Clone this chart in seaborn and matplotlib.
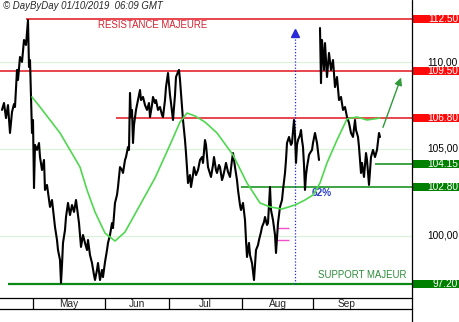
import numpy as np
import pandas as pd
import matplotlib
matplotlib.use("Agg")
import matplotlib.pyplot as plt
import seaborn as sns
from matplotlib.patches import Rectangle
from matplotlib.lines import Line2D
import matplotlib.transforms as mtransforms

# ---------------- data ----------------
bars = [2, 4, 6, 8, 10, 12, 14, 15, 17, 18, 20, 22, 24, 26, 28, 29, 30, 31, 32, 33, 34, 35, 37, 39, 40,
        42, 44, 45, 47, 50, 52, 55, 57, 58, 60, 61, 62, 63, 65, 66, 68, 70, 72, 74, 76, 78, 79, 81, 83,
        85, 87, 88, 90, 92, 94, 95, 97, 98, 100, 102, 103, 105, 107, 108, 110, 112, 113, 115, 117, 118,
        120, 122, 123, 125, 126, 128, 129, 130, 131, 132, 133, 134, 136, 138, 140, 141, 143, 145, 147,
        149, 150, 152, 153, 155, 156, 158, 160, 162, 163, 165, 166, 168, 170, 171, 173, 175, 176, 178,
        179, 180, 181, 183, 185, 186, 188, 190, 191, 193, 194, 196, 198, 200, 202, 203, 205, 206, 208,
        211, 213, 214, 216, 217, 219, 220, 222, 223, 225, 226, 228, 230, 232, 233, 235, 237, 238, 240,
        241, 243, 245, 246, 247, 249, 250, 252, 254, 255, 256, 258, 259, 261, 262, 264, 265, 267, 268,
        270, 271, 273, 275, 276, 278, 280, 282, 283, 285, 286, 287, 289, 291, 292, 294, 295, 296, 297,
        298, 300, 301, 302, 303, 304, 305, 306, 307, 309, 310, 312, 313, 315, 316, 317, 319,
        320, 321, 322, 323, 324, 325, 327, 328, 329, 331, 333, 335, 337, 339, 341, 343, 345, 347, 349,
        351, 353, 355, 356, 358, 359, 361, 362, 364, 366, 367, 369, 371, 373, 375, 377, 379, 380]
prices = [107.25, 107.65, 106.78, 107.53, 105.92, 107.13, 107.59, 107.42, 109.56, 108.98, 110.31, 110.02,
          111.29, 111.00, 112.44, 109.73, 110.13, 108.00, 105.92, 106.67, 102.74, 105.23, 104.94, 105.34,
          104.53, 103.78, 104.36, 102.63, 102.92, 101.65, 102.05, 100.49, 99.74, 99.16, 98.59, 97.26,
          98.30, 99.57, 100.32, 101.07, 101.88, 101.18, 101.76, 101.36, 102.05, 101.18, 100.72, 99.34,
          100.03, 99.57, 99.16, 99.74, 98.87, 98.41, 97.72, 97.43, 98.01, 98.41, 97.43, 98.01, 97.60,
          98.47, 99.16, 99.57, 100.03, 100.72, 100.43, 101.88, 102.34, 102.80, 103.95, 103.78, 103.61,
          104.36, 104.53, 105.11, 104.94, 108.23, 106.84, 107.25, 105.34, 106.38, 107.25, 107.82, 108.40,
          107.82, 108.00, 107.53, 107.25, 107.65, 106.84, 107.53, 108.00, 107.65, 107.82, 107.25, 107.42,
          106.96, 106.84, 107.82, 108.57, 109.38, 108.11, 107.65, 106.67, 108.11, 109.15, 109.44, 109.56,
          108.98, 108.23, 106.67, 105.51, 104.76, 103.03, 103.49, 102.80, 103.49, 103.95, 103.49, 103.78,
          104.36, 104.53, 104.19, 105.51, 105.23, 103.95, 103.38, 104.07, 104.53, 103.78, 103.61, 104.07,
          103.95, 103.20, 103.38, 103.90, 104.19, 103.67, 103.38, 104.36, 104.76, 103.95, 103.20, 102.63,
          101.76, 101.47, 101.88, 100.89, 99.74, 98.76, 99.57, 98.87, 98.41, 97.43, 98.30, 99.16, 99.45,
          99.74, 100.20, 100.49, 100.78, 101.07, 100.61, 100.72, 102.80, 101.47, 100.89, 100.03, 98.99,
          100.72, 101.65, 102.05, 102.63, 103.61, 104.36, 105.34, 105.69, 105.23, 105.34, 106.67, 105.80,
          104.19, 105.23, 105.51, 105.80, 106.09, 105.51, 105.11, 104.07, 102.63, 103.49, 103.95, 104.65,
          104.76, 104.94, 105.34, 105.92, 105.63, 105.34, 104.36,
          111.98, 108.80, 111.29, 110.42, 109.56, 111.11, 109.15, 109.84, 110.54, 109.56, 110.13, 108.57,
          109.15, 107.82, 108.00, 107.25, 107.42, 106.84, 106.50, 105.92, 105.69, 106.67, 106.09, 105.69,
          105.11, 103.61, 104.19, 103.38, 104.76, 104.36, 102.92, 104.53, 104.94, 104.53, 104.94, 105.92,
          105.69]
gap_bar = 320  # price gap (no bar drawn across it)

ma_bars = [32, 40, 50, 60, 70, 80, 87, 95, 105, 115, 125, 140, 155, 170, 180, 187, 195, 205, 217, 233,
           247, 260, 270, 282, 295, 305, 313, 320, 327, 337, 347, 357, 367, 380]
ma_vals = [108.00, 107.42, 106.67, 105.92, 104.94, 103.95, 102.63, 101.36, 100.14, 99.68, 100.20, 101.76,
           103.32, 105.23, 106.55, 107.07, 106.90, 106.55, 105.92, 104.65, 103.03, 101.88, 101.65, 101.53,
           101.76, 102.05, 102.34, 103.03, 104.19, 105.51, 106.73, 106.84, 106.67, 106.78]

levels = [112.50, 109.50, 106.80, 104.15, 102.80, 97.20]
level_labels = ["112.50", "109.50", "106.80", "104.15", "102.80", "97.20"]
level_kind = ["res", "res", "res", "sup", "sup", "sup"]
level_from = [26, 0, 116, 375, 241, 8]

grid_vals = [100, 105, 110]
grid_labels = ["100,00", "105,00", "110,00"]

months = ["May", "Jun", "Jul", "Aug", "Sep"]
month_bounds = [33, 105, 169, 242, 313, 381]

target_bar = 295
target_top = 111.52
fib_marks = [100.43, 99.74]
fib_from, fib_to = 277, 289
proj_from = (382, 106.09)
proj_to = (402, 109.27)

# ---------------- style ----------------
sns.set_style("white")
plt.rcParams["font.family"] = ["Liberation Sans", "DejaVu Sans"]

RED = "#e3121c"
GREEN = "#0a8a14"
MA_GREEN = "#4fd84f"
BLUE = "#2a2ad8"

W, H = 460, 322
fig = plt.figure(figsize=(W / 100, H / 100), dpi=100)
ax_right = 412
ax_bottom = 298
ax = fig.add_axes([0, 1 - ax_bottom / H, ax_right / W, ax_bottom / H])
ppu = 17.32  # pixels per price unit
ax.set_xlim(0, ax_right)
ax.set_ylim(112.5 - (ax_bottom - 19) / ppu, 112.5 + 19 / ppu)
for s in ax.spines.values():
    s.set_visible(False)
ax.set_xticks([])
ax.set_yticks([])

# grid lines
for g in grid_vals:
    ax.axhline(g, color="#d9f2d9", lw=0.9, zorder=0)

# levels
for v, k, x0 in zip(levels, level_kind, level_from):
    c = RED if k == "res" else GREEN
    lw = 1.6 if v == 97.20 else 1.1
    ax.hlines(v, x0, ax_right, color=c, lw=lw, zorder=2)

# price
df = pd.DataFrame({"bar": bars, "price": prices})
df["seg"] = (df["bar"] >= gap_bar).astype(int)
sns.lineplot(data=df, x="bar", y="price", units="seg", estimator=None, color="black",
             lw=1.5, ax=ax, legend=False, zorder=4)

# moving average
ma = pd.DataFrame({"bar": ma_bars, "ma": ma_vals})
sns.lineplot(data=ma, x="bar", y="ma", color=MA_GREEN, lw=1.2, ax=ax, legend=False, zorder=5)
ax.set_xlabel("")
ax.set_ylabel("")

# target vertical dotted line with arrow
ax.vlines(target_bar, 97.2, target_top, color=BLUE, lw=0.9, linestyles=(0, (1, 1.5)), zorder=3)
ax.plot([target_bar], [target_top + 0.2], marker="^", color=BLUE, ms=6, zorder=6)

# fib marks
for v in fib_marks:
    ax.hlines(v, fib_from, fib_to, color="#f050c8", lw=1.0, zorder=3)

ax.text(312, 102.45, "62%", color="#2b3fc4", fontsize=7.2, fontweight="bold", va="center", ha="left")

ax.annotate("", xy=proj_to, xytext=proj_from,
            arrowprops=dict(arrowstyle="-|>", color="#2f9a3a", lw=1.0, mutation_scale=11))

ax.text(98, 112.5 - 6 / ppu, "RESISTANCE MAJEURE", color="#d5222e", fontsize=6.9,
        va="center", ha="left")
ax.text(407, 97.2 + 9 / ppu, "SUPPORT MAJEUR", color="#2e8b3a", fontsize=6.9,
        va="center", ha="right")

# right-hand labels
trans = mtransforms.blended_transform_factory(ax.transAxes, ax.transData)
label_x = 1 + 46 / ax_right
for g, lab in zip(grid_vals, grid_labels):
    ax.text(label_x, g, lab, transform=trans, ha="right", va="center", fontsize=7.3,
            color="black", clip_on=False, zorder=7)
bh = 8 / ppu
for v, lab, k in zip(levels, level_labels, level_kind):
    c = "#ff0a0a" if k == "res" else "#008000"
    ax.add_patch(Rectangle((1.0, v - bh / 2), (W - ax_right) / ax_right, bh, transform=trans,
                           facecolor=c, edgecolor="none", clip_on=False, zorder=8))
    ax.text(label_x, v, lab, transform=trans, ha="right", va="center", fontsize=7.3,
            color="white", clip_on=False, zorder=9)

# date band
ax2 = fig.add_axes([0, 1 - 309 / H, ax_right / W, 11 / H])
ax2.set_xlim(0, ax_right)
ax2.set_ylim(0, 1)
ax2.set_xticks([])
ax2.set_yticks([])
for side in ["left", "right"]:
    ax2.spines[side].set_visible(False)
for side in ["top", "bottom"]:
    ax2.spines[side].set_color("black")
    ax2.spines[side].set_linewidth(0.9)
ax2.vlines(month_bounds[:-1], 0, 1, color="black", lw=0.9)
for i, m in enumerate(months):
    ax2.text((month_bounds[i] + month_bounds[i + 1]) / 2, 0.45, m, ha="center", va="center",
             fontsize=7.3)

# right axis line (full height)
fig.add_artist(Line2D([ax_right / W, ax_right / W], [0, 1], color="black", lw=0.9,
                      transform=fig.transFigure))

fig.text(3 / W, 1 - 6 / H, "\u00a9 DayByDay 01/10/2019  06:09 GMT", fontsize=6.9,
         fontstyle="italic", va="center", ha="left")

fig.savefig("out.png", dpi=100)
